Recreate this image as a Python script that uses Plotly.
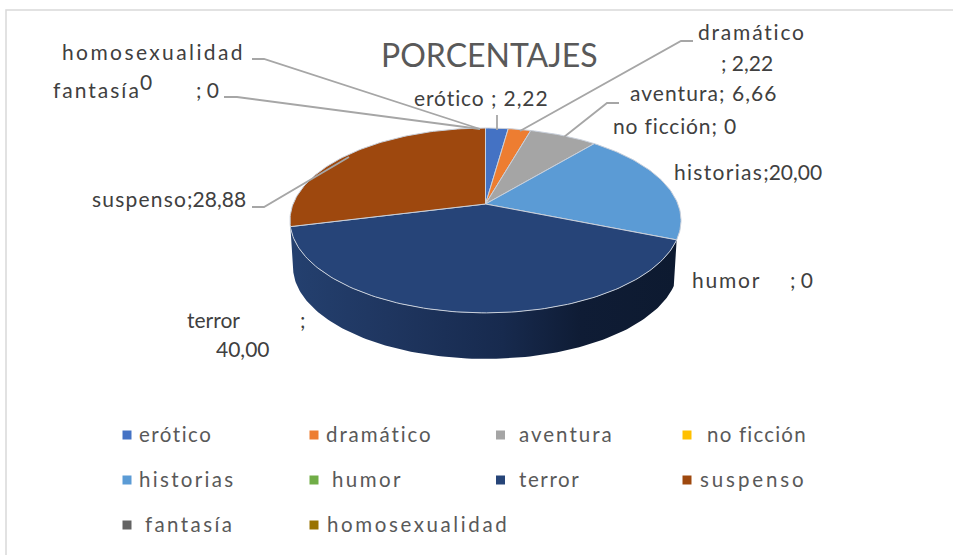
import numpy as np
import plotly.graph_objects as go

# ---- data ----
categories = ["erótico", "dramático", "aventura", "no ficción", "historias",
              "humor", "terror", "suspenso", "fantasía", "homosexualidad"]
values = [2.22, 2.22, 6.66, 0, 20.00, 0, 40.00, 28.88, 0, 0]
colors = ["#4472C4", "#ED7D31", "#A5A5A5", "#FFC000", "#5B9BD5",
          "#70AD47", "#264478", "#9E480E", "#636363", "#997300"]
title_text = "PORCENTAJES"

# ---- pie geometry (pixels) ----
W, H = 953, 555
CX, CY = 485.5, 204.0
RX, RY, PERSP = 192.4, 89.5, 0.178
DEPTH, BOTTOM_SCALE = 46.0, 0.985


def rim(theta, depth=0.0, scale=1.0):
    w = 1 + PERSP * np.cos(theta)
    x = CX + scale * RX * np.sin(theta) / w
    y = CY - RY * np.cos(theta) / w + depth
    return x, y


fig = go.Figure()
total = sum(values)
cum = np.cumsum([0] + values) / total * 2 * np.pi

# side wall of the terror slice
t_i = categories.index("terror")
th = np.linspace(cum[t_i], cum[t_i + 1], 120)
x1, y1 = rim(th)
x2, y2 = rim(th[::-1], DEPTH, BOTTOM_SCALE)
fig.add_trace(go.Scatter(
    x=np.r_[x1, x2, x1[0]], y=np.r_[y1, y2, y1[0]], mode="lines", fill="toself",
    line=dict(width=0, color="rgba(0,0,0,0)"), hoverinfo="skip", showlegend=False,
    fillgradient=dict(type="horizontal", colorscale=[
        [0, "#24406F"], [0.25, "#1F3660"], [0.55, "#172A4E"], [0.75, "#0F1C35"], [1, "#0D1A30"]]),
))

# top face slices
for i, (name, v) in enumerate(zip(categories, values)):
    if v <= 0:
        continue
    th = np.linspace(cum[i], cum[i + 1], max(8, int(v * 3)))
    x, y = rim(th)
    fig.add_trace(go.Scatter(
        x=np.r_[CX, x, CX], y=np.r_[CY, y, CY], mode="lines", fill="toself",
        fillcolor=colors[i], line=dict(color="#C9D0DB", width=1),
        name=name, showlegend=False, hoverinfo="name",
    ))

# legend (markers and text placed as in the reference)
legend_x = [127, 314, 500.5, 687, 127, 314, 500.5, 687, 127, 314]
legend_y = [435, 435, 435, 435, 480, 480, 480, 480, 525, 525]
legend_tx = [139, 326, 519, 707, 139, 332, 519, 700, 145, 327]
legend_ls = [1.5, 1.9, 2.0, 1.2, 2.3, 2.4, 1.6, 2.9, 2.4, 2.6]
fig.add_trace(go.Scatter(
    x=legend_x, y=legend_y, mode="markers", showlegend=False, hoverinfo="skip",
    marker=dict(symbol="square", size=9, color=colors, line=dict(width=0)),
))

annotations = []
TEXT_LIFT = 1.5


def spaced(text, ls):
    return f'<span style="letter-spacing:{ls}px">{text}</span>'


def label(text, x, y, size=21, color="#404040", ls=0.0, anchor="left"):
    t = spaced(text, ls) if ls else text
    annotations.append(dict(
        x=x, y=y - TEXT_LIFT, xref="x", yref="y", text=t, showarrow=False, xanchor=anchor,
        yanchor="middle", borderpad=0, borderwidth=0, align="left",
        font=dict(family="Lato, Carlito, sans-serif", size=size, color=color),
    ))


for name, tx, ty, ls in zip(categories, legend_tx, legend_y, legend_ls):
    label(name, tx, ty, size=20.5, color="#595959", ls=ls)

label(title_text, 381, 55.5, size=32, color="#595959")

label("homosexualidad", 62, 53, ls=2.4)
label("fantasía", 53, 91, ls=2.0)
label("0", 140, 83)
label("; 0", 196, 91)
label(spaced("suspenso", 1.2) + ";28,88", 92, 200)
label("erótico ; 2,22", 414, 99, ls=0.9)
label("dramático", 698, 33, ls=1.8)
label("; 2,22", 721, 64)
label("aventura; 6,66", 630, 94, ls=1.05)
label("no ficción; 0", 613, 127, ls=0.85)
label(spaced("historias", 1.3) + ";20,00", 674, 173)
label("humor", 692, 281, ls=1.8)
label("; 0", 790, 281)
label("terror", 187, 321)
label(";", 300, 321)
label("40,00", 216, 350)

# leader lines
leaders = [
    [(252, 59), (264, 59), (480, 129)],
    [(224, 97), (237, 97), (480, 129)],
    [(252, 207), (264, 207), (349, 157)],
    [(497, 115), (497, 130)],
    [(693, 41), (681, 41), (520, 131)],
    [(619, 103), (607, 103), (564, 137)],
]
shapes = []
for pts in leaders:
    path = "M " + " L ".join(f"{a} {b}" for a, b in pts)
    shapes.append(dict(type="path", path=path, xref="x", yref="y",
                       line=dict(color="#A6A6A6", width=1.8)))
# chart frame
shapes.append(dict(type="path", path=f"M 6 {H} L 6 10 L {W} 10", xref="x", yref="y",
                   line=dict(color="#D9D9D9", width=1.5)))

fig.update_layout(
    width=W, height=H, autosize=False, margin=dict(l=0, r=0, t=0, b=0, pad=0),
    paper_bgcolor="white", plot_bgcolor="white", showlegend=False,
    xaxis=dict(range=[0, W], visible=False, fixedrange=True),
    yaxis=dict(range=[H, 0], visible=False, fixedrange=True),
    annotations=annotations, shapes=shapes,
)
fig.write_html("out.html", config=dict(displayModeBar=False),
               post_script="document.body.style.margin='0';document.body.style.overflow='hidden';")
